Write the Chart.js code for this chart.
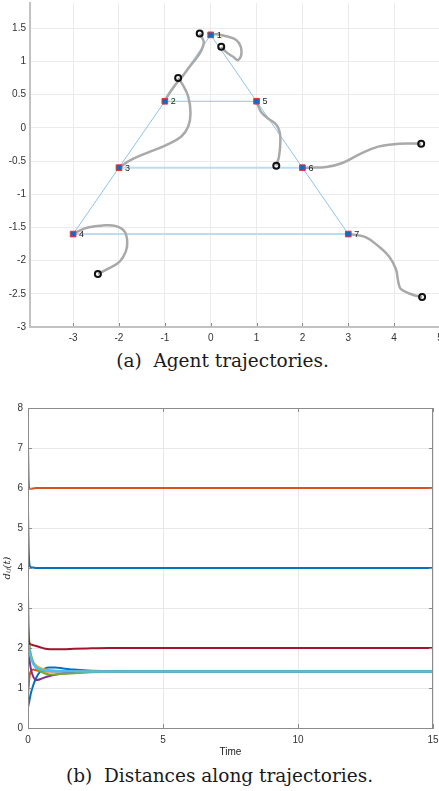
<!DOCTYPE html>
<html>
<head>
<meta charset="utf-8">
<script src="https://cdn.jsdelivr.net/npm/chart.js@4.4.0/dist/chart.umd.min.js"></script>
<style>
  html, body { margin: 0; padding: 0; background: #fff; }
  body { width: 439px; height: 791px; position: relative; overflow: hidden; }
  #trajCanvas { position: absolute; left: 0; top: 0; }
  #distCanvas { position: absolute; left: 0; top: 385px; }
  .caption { position: absolute; left: 0; width: 439px; text-align: center;
             font-family: "DejaVu Serif", serif; font-size: 18.5px; color: #1a1a1a; white-space: pre; }
</style>
</head>
<body>
<canvas id="trajCanvas" width="440" height="346"></canvas>
<div class="caption" style="top: 350px; left: 3px;">(a)  Agent trajectories.</div>
<canvas id="distCanvas" width="439" height="375"></canvas>
<div class="caption" style="top: 765px;">(b)  Distances along trajectories.</div>
<script>
// formation targets
var targetX = [0, -1, -2, -3, 1, 2, 3];
var targetY = [1.4, 0.4, -0.6, -1.6, 0.4, -0.6, -1.6];
var edges = [[1, 2], [2, 3], [3, 4], [1, 5], [5, 6], [6, 7], [2, 5], [3, 6], [4, 7]];

// agent paths, start (circle) -> target
var path1X = [0.23, 0.34, 0.49, 0.60, 0.67, 0.56, 0.34, 0.12, 0];
var path1Y = [1.22, 1.14, 1.07, 1.02, 1.17, 1.32, 1.38, 1.41, 1.4];
var path2X = [-0.24, -0.20, -0.15, -0.20, -0.31, -0.46, -0.60, -0.78, -0.93, -1];
var path2Y = [1.42, 1.37, 1.29, 1.17, 1.05, 0.92, 0.79, 0.64, 0.49, 0.4];
var path3X = [-0.71, -0.62, -0.49, -0.44, -0.49, -0.64, -0.97, -1.40, -1.73, -2];
var path3Y = [0.75, 0.66, 0.47, 0.22, 0.02, -0.13, -0.26, -0.38, -0.48, -0.6];
var path4X = [-2.46, -2.20, -1.98, -1.85, -1.82, -1.88, -2.06, -2.35, -2.68, -2.90, -3];
var path4Y = [-2.20, -2.11, -2.01, -1.86, -1.71, -1.56, -1.48, -1.47, -1.50, -1.56, -1.6];
var path5X = [1.43, 1.49, 1.52, 1.49, 1.40, 1.25, 1.10, 1.03, 1];
var path5Y = [-0.57, -0.43, -0.18, -0.03, 0.07, 0.14, 0.24, 0.34, 0.4];
var path6X = [4.59, 4.11, 3.67, 3.24, 2.87, 2.52, 2.15, 2];
var path6Y = [-0.24, -0.24, -0.28, -0.40, -0.53, -0.59, -0.60, -0.6];
var path7X = [4.61, 4.39, 4.15, 4.09, 4.04, 3.89, 3.67, 3.39, 3.13, 3];
var path7Y = [-2.55, -2.51, -2.43, -2.32, -2.13, -1.94, -1.79, -1.65, -1.61, -1.6];

// distances along trajectories
var time = [0, 0.02, 0.05, 0.1, 0.2, 0.3, 0.45, 0.6, 0.8, 1, 1.3, 1.7, 2.2, 3, 4, 6, 10, 15];
var d12 = [0.52, 0.58, 0.68, 0.85, 1.08, 1.25, 1.41, 1.48, 1.51, 1.51, 1.49, 1.46, 1.44, 1.425, 1.417, 1.414, 1.414, 1.414];
var d23 = [0.82, 1.0, 1.25, 1.42, 1.46, 1.44, 1.42, 1.41, 1.41, 1.41, 1.412, 1.413, 1.414, 1.414, 1.414, 1.414, 1.414, 1.414];
var d34 = [3.42, 2.6, 2.1, 1.85, 1.65, 1.57, 1.5, 1.47, 1.45, 1.44, 1.43, 1.42, 1.415, 1.414, 1.414, 1.414, 1.414, 1.414];
var d15 = [2.15, 2.0, 1.75, 1.5, 1.27, 1.2, 1.22, 1.26, 1.3, 1.33, 1.36, 1.38, 1.4, 1.41, 1.414, 1.414, 1.414, 1.414];
var d56 = [3.18, 2.5, 2.1, 1.85, 1.62, 1.5, 1.42, 1.37, 1.34, 1.34, 1.35, 1.37, 1.39, 1.405, 1.412, 1.414, 1.414, 1.414];
var d67 = [2.31, 2.15, 1.95, 1.78, 1.6, 1.52, 1.47, 1.44, 1.43, 1.42, 1.42, 1.416, 1.414, 1.414, 1.414, 1.414, 1.414, 1.414];
var d25 = [2.6, 2.3, 2.12, 2.09, 2.07, 2.05, 2.02, 1.99, 1.97, 1.97, 1.97, 1.98, 1.99, 2.0, 2.0, 2.0, 2.0, 2.0];
var d36 = [5.4, 4.6, 4.1, 4.02, 4.01, 4.0, 4.0, 4.0, 4.0, 4.0, 4.0, 4.0, 4.0, 4.0, 4.0, 4.0, 4.0, 4.0];
var d47 = [7.1, 6.3, 5.98, 5.98, 5.99, 6.0, 6.0, 6.0, 6.0, 6.0, 6.0, 6.0, 6.0, 6.0, 6.0, 6.0, 6.0, 6.0];

var matlabColors = ['#0072BD', '#D95319', '#EDB120', '#7E2F8E', '#77AC30', '#4DBEEE', '#A2142F', '#0072BD', '#D95319'];
var tickFont = { family: 'Liberation Sans', size: 10 };

function toPoints(xs, ys){
    return xs.map(function(x, i){ return { x: x, y: ys[i] }; });
}

function plainTick(v){
    return String(Math.round(v * 100) / 100);
}

// ---------- (a) trajectories ----------
var paths = [[path1X, path1Y], [path2X, path2Y], [path3X, path3Y], [path4X, path4Y],
             [path5X, path5Y], [path6X, path6Y], [path7X, path7Y]];

var trajSets = [];

trajSets.push({
    data: toPoints(targetX, targetY),
    showLine: false,
    pointStyle: 'rect',
    pointRadius: 4,
    backgroundColor: '#0a6fc4',
    borderColor: '#e8333a',
    borderWidth: 1,
    order: 0
});

trajSets.push({
    data: paths.map(function(p){ return { x: p[0][0], y: p[1][0] }; }),
    showLine: false,
    pointStyle: 'circle',
    pointRadius: 3,
    backgroundColor: 'rgba(255,255,255,0)',
    borderColor: '#111',
    borderWidth: 2,
    order: 1
});

paths.forEach(function(p){
    trajSets.push({
        data: toPoints(p[0], p[1]),
        showLine: true,
        pointRadius: 0,
        borderColor: '#a9a9a9',
        borderWidth: 2.5,
        tension: 0.4,
        order: 2
    });
});

edges.forEach(function(e){
    var wide = (e[0] === 3 && e[1] === 6) || (e[0] === 4 && e[1] === 7);
    trajSets.push({
        data: [{ x: targetX[e[0] - 1], y: targetY[e[0] - 1] }, { x: targetX[e[1] - 1], y: targetY[e[1] - 1] }],
        showLine: true,
        pointRadius: 0,
        borderColor: wide ? '#bcdcf2' : '#8cc4ea',
        borderWidth: wide ? 2 : 1,
        order: 3
    });
});

var agentLabels = {
    id: 'agentLabels',
    afterDatasetsDraw: function(chart){
        var ctx = chart.ctx, sx = chart.scales.x, sy = chart.scales.y, a = chart.chartArea;
        ctx.save();
        // small inward tick marks on the bottom axis
        ctx.strokeStyle = '#8a8a8a';
        ctx.lineWidth = 1;
        ctx.beginPath();
        sx.ticks.forEach(function(t){
            var p = Math.round(sx.getPixelForValue(t.value)) + 0.5;
            ctx.moveTo(p, a.bottom - 1); ctx.lineTo(p, a.bottom - 4);
        });
        ctx.stroke();
        ctx.font = '9px "Liberation Sans"';
        ctx.fillStyle = '#222';
        ctx.textBaseline = 'middle';
        targetX.forEach(function(x, i){
            ctx.fillText(String(i + 1), sx.getPixelForValue(x) + 6, sy.getPixelForValue(targetY[i]) + 0.5);
        });
        ctx.restore();
    }
};

new Chart(document.getElementById('trajCanvas'), {
    type: 'scatter',
    data: { datasets: trajSets },
    options: {
        responsive: false,
        animation: false,
        devicePixelRatio: 1,
        layout: { autoPadding: false, padding: { top: 3, left: 0, right: 0, bottom: 0 } },
        plugins: { legend: { display: false }, tooltip: { enabled: false } },
        scales: {
            x: {
                type: 'linear', min: -3.94, max: 5,
                ticks: { stepSize: 1, includeBounds: false, padding: 5, color: '#333', font: tickFont, maxRotation: 0, callback: plainTick },
                grid: { color: '#ebebeb', drawTicks: false },
                border: { color: '#c2c2c2', width: 2 },
                afterFit: function(s){ s.height = 19; s.paddingLeft = 0; s.paddingRight = 0; }
            },
            y: {
                type: 'linear', min: -3, max: 1.88,
                ticks: { stepSize: 0.5, includeBounds: false, padding: 4, color: '#333', font: tickFont, callback: plainTick },
                grid: { color: '#ebebeb', drawTicks: false },
                border: { color: '#c2c2c2', width: 2 },
                afterFit: function(s){ s.width = 30; s.paddingTop = 0; s.paddingBottom = 0; }
            }
        }
    },
    plugins: [agentLabels]
});

// ---------- (b) distances ----------
var distSeries = [d12, d23, d34, d15, d56, d67, d25, d36, d47];

var distSets = distSeries.map(function(d, i){
    return {
        data: toPoints(time, d),
        showLine: true,
        pointRadius: 0,
        borderColor: matlabColors[i],
        borderWidth: i === 5 ? 2.5 : 2,
        cubicInterpolationMode: 'monotone',
        order: 9 - i
    };
});

var boxTicks = {
    id: 'boxTicks',
    afterDraw: function(chart){
        var ctx = chart.ctx, a = chart.chartArea, sx = chart.scales.x, sy = chart.scales.y;
        ctx.save();
        ctx.strokeStyle = '#8c8c8c';
        ctx.lineWidth = 1;
        ctx.strokeRect(a.left + 0.5, a.top + 0.5, a.right - a.left - 1, a.bottom - a.top);
        ctx.beginPath();
        sx.ticks.forEach(function(t){
            var p = Math.round(sx.getPixelForValue(t.value)) + 0.5;
            ctx.moveTo(p, a.bottom); ctx.lineTo(p, a.bottom - 4);
            ctx.moveTo(p, a.top); ctx.lineTo(p, a.top + 4);
        });
        sy.ticks.forEach(function(t){
            var p = Math.round(sy.getPixelForValue(t.value)) + 0.5;
            ctx.moveTo(a.left, p); ctx.lineTo(a.left + 4, p);
            ctx.moveTo(a.right, p); ctx.lineTo(a.right - 4, p);
        });
        ctx.stroke();
        ctx.restore();
    }
};

new Chart(document.getElementById('distCanvas'), {
    type: 'scatter',
    data: { datasets: distSets },
    options: {
        responsive: false,
        animation: false,
        devicePixelRatio: 1,
        layout: { autoPadding: false, padding: { top: 23, left: 0, right: 6, bottom: 0 } },
        plugins: { legend: { display: false }, tooltip: { enabled: false } },
        scales: {
            x: {
                type: 'linear', min: 0, max: 15,
                ticks: { stepSize: 5, padding: 6, color: '#333', font: tickFont, maxRotation: 0, callback: plainTick },
                grid: { color: '#e8e8e8', drawTicks: false },
                border: { color: '#8c8c8c', width: 1 },
                title: { display: true, text: 'Time', color: '#222', font: { family: 'Liberation Sans', size: 10 }, padding: { top: 0, bottom: 2 } },
                afterFit: function(s){ s.height = 32; s.paddingLeft = 0; s.paddingRight = 0; }
            },
            y: {
                type: 'linear', min: 0, max: 8,
                ticks: { stepSize: 1, padding: 5, color: '#333', font: tickFont, callback: plainTick },
                grid: { color: '#e8e8e8', drawTicks: false },
                border: { color: '#8c8c8c', width: 1 },
                title: { display: true, text: 'd\u1D62\u2C7C(t)', color: '#222', font: { family: 'DejaVu Serif', size: 10, style: 'italic' }, padding: { top: 1 } },
                afterFit: function(s){ s.width = 28; s.paddingTop = 0; s.paddingBottom = 0; }
            }
        }
    },
    plugins: [boxTicks]
});
</script>
</body>
</html>
